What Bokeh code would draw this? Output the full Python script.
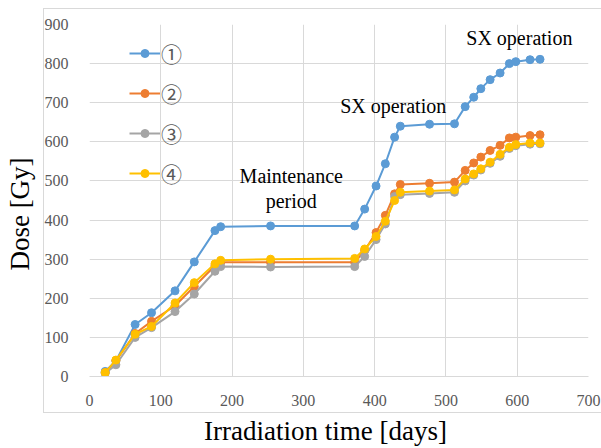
import numpy as np
from bokeh.plotting import figure
from bokeh.models import Range1d, FixedTicker, Legend, LegendItem, Label
from bokeh.embed import file_html
from bokeh.resources import INLINE

# ---- data ----
days = [22, 37, 64, 87, 120, 147, 176, 184, 254, 372, 386, 402, 415, 428, 436,
        477, 512, 527, 539, 549, 562, 576, 589, 598, 618, 632]
dose_1 = [13, 40, 133, 163, 219, 293, 373, 383, 385, 385, 428, 487, 544, 612, 640,
          645, 646, 690, 714, 736, 759, 776, 800, 805, 810, 811]
dose_2 = [10, 40, 110, 141, 181, 230, 283, 292, 292, 292, 322, 368, 412, 467, 491,
          494, 497, 527, 546, 561, 578, 591, 610, 612, 616, 618]
dose_3 = [8, 30, 100, 125, 166, 211, 269, 281, 280, 281, 307, 350, 390, 460, 465,
          468, 471, 500, 515, 528, 545, 563, 583, 590, 594, 595]
dose_4 = [10, 42, 108, 128, 188, 240, 288, 297, 300, 302, 326, 358, 397, 450, 471,
          474, 477, 505, 518, 531, 548, 568, 586, 593, 597, 597]
series_labels = ["①", "②", "③", "④"]
series_colors = ["#5B9BD5", "#ED7D31", "#A5A5A5", "#FFC000"]
x_ticks = [0, 100, 200, 300, 400, 500, 600, 700]
y_ticks = [0, 100, 200, 300, 400, 500, 600, 700, 800, 900]
x_title = "Irradiation time [days]"
y_title = "Dose [Gy]"

SERIF = "Liberation Serif"
NBSP = "\u00a0"

p = figure(width=601, height=448, output_backend="svg", toolbar_location=None,
           x_range=Range1d(0, 700), y_range=Range1d(0, 900),
           min_border_left=89, min_border_right=13, min_border_top=24,
           min_border_bottom=72)
p.outline_line_color = None
p.background_fill_color = "white"
p.border_fill_color = "white"

# outer chart-area box (decorative border drawn by CSS around the chart area)
p.stylesheets = [
    ":host { position: relative; overflow: hidden; }"
    ":host::after { content: ''; position: absolute; left: 43px; top: 8px;"
    " width: 562px; height: 405px; border: 1px solid #d9d9d9;"
    " box-sizing: border-box; pointer-events: none; }"
]

for g in (p.xgrid, p.ygrid):
    g.grid_line_color = "#d9d9d9"
    g.grid_line_width = 1
p.xaxis.ticker = FixedTicker(ticks=x_ticks)
p.yaxis.ticker = FixedTicker(ticks=y_ticks)
p.xgrid.ticker = FixedTicker(ticks=x_ticks)
p.ygrid.ticker = FixedTicker(ticks=y_ticks)
for ax in (p.xaxis[0], p.yaxis[0]):
    ax.major_tick_line_color = None
    ax.minor_tick_line_color = None
    ax.major_label_text_font = SERIF
    ax.major_label_text_font_size = "16px"
    ax.major_label_text_color = "#595959"
    ax.axis_label_text_font = SERIF
    ax.axis_label_text_font_size = "27px"
    ax.axis_label_text_font_style = "normal"
    ax.axis_label_text_color = "black"
p.xaxis.axis_label_standoff = 7
p.yaxis.axis_label_standoff = 7
p.xaxis.axis_line_color = "#d9d9d9"
p.yaxis.axis_line_color = None
p.xaxis.major_label_standoff = 12
p.yaxis.major_label_standoff = 15
# trailing no-break spaces nudge the centred titles toward their start, as in the reference
p.xaxis.axis_label = x_title + NBSP * 4
p.yaxis.axis_label = y_title + NBSP * 4

items = []
for ys, lab, col in zip([dose_1, dose_2, dose_3, dose_4], series_labels, series_colors):
    r1 = p.line(days, ys, line_color=col, line_width=2)
    r2 = p.scatter(days, ys, marker="circle", size=8, fill_color=col, line_color=col)
    items.append(LegendItem(label=lab, renderers=[r1, r2]))

legend = Legend(items=items, location=(40, 188), padding=0, margin=0, spacing=10,
                glyph_width=31, glyph_height=20, label_height=30, label_standoff=1,
                border_line_color=None, background_fill_alpha=0,
                label_text_font="Noto Sans CJK JP", label_text_color="#595959",
                label_text_font_size="21px")
p.add_layout(legend)

# annotations
ann = dict(text_font=SERIF, text_font_size="20px", text_color="black",
           text_align="center", text_baseline="alphabetic")
p.add_layout(Label(x=283, y=513, text="Maintenance", **ann))
p.add_layout(Label(x=283, y=449, text="period", **ann))
p.add_layout(Label(x=426, y=692, text="SX operation", **ann))
p.add_layout(Label(x=603, y=866, text="SX operation", **ann))

open("out.html", "w").write(file_html(p, INLINE))
